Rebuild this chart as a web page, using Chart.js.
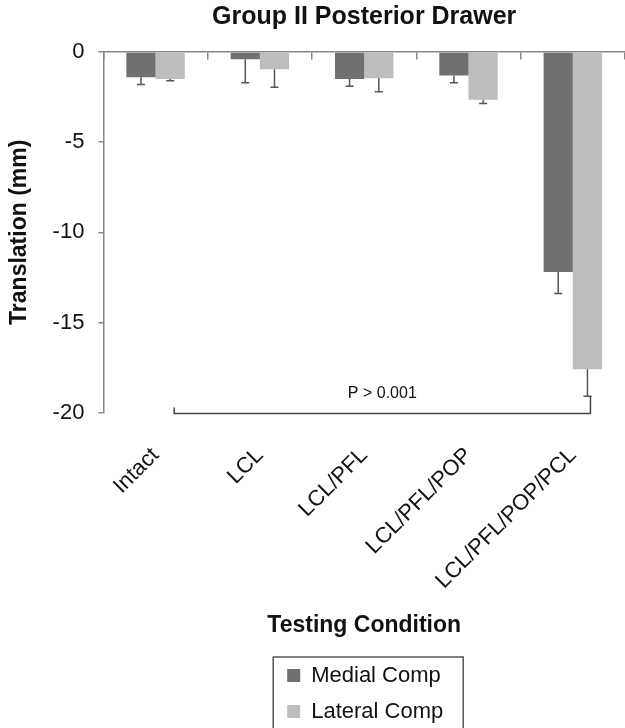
<html>
<head>
    <meta charset="utf-8" />
    <title>Group II Posterior Drawer</title>
    <script src="https://cdn.jsdelivr.net/npm/chart.js@4.4.1/dist/chart.umd.min.js"></script>
    <style>
        body { margin: 0; background: #fff; overflow: hidden; }
        #wrap { width: 625px; height: 728px; }
    </style>
</head>
<body>
    <div id="wrap"><canvas id="grafico"></canvas></div>
    <script>
        // categories and values (mm)
        const categorias = ['Intact', 'LCL', 'LCL/PFL', 'LCL/PFL/POP', 'LCL/PFL/POP/PCL'];
        const medial = [-1.4, -0.4, -1.5, -1.3, -12.2];
        const medialErro = [0.4, 1.3, 0.4, 0.4, 1.2];
        const lateral = [-1.5, -0.95, -1.45, -2.65, -17.6];
        const lateralErro = [0.1, 1.0, 0.75, 0.2, 1.5];
        const yTicks = [0, -5, -10, -15, -20];
        const textoP = 'P > 0.001';

        const fonte = "'Liberation Sans', Arial, sans-serif";
        Chart.defaults.font.family = fonte;
        Chart.defaults.color = '#111';

        // error bars, one sided (away from zero)
        const barrasErro = {
            id: 'barrasErro',
            afterDatasetsDraw(chart) {
                const ctx = chart.ctx;
                const y = chart.scales.y;
                ctx.save();
                ctx.strokeStyle = '#555';
                ctx.lineWidth = 1.5;
                chart.data.datasets.forEach((ds, i) => {
                    const meta = chart.getDatasetMeta(i);
                    meta.data.forEach((bar, j) => {
                        const y0 = bar.y;
                        const y1 = y.getPixelForValue(ds.data[j] - ds.erro[j]);
                        ctx.beginPath();
                        ctx.moveTo(bar.x, y0);
                        ctx.lineTo(bar.x, y1);
                        ctx.moveTo(bar.x - 4, y1);
                        ctx.lineTo(bar.x + 4, y1);
                        ctx.stroke();
                    });
                });
                ctx.restore();
            }
        };

        // bracket with the P value
        const colchete = {
            id: 'colchete',
            afterDatasetsDraw(chart) {
                const ctx = chart.ctx;
                const y = chart.scales.y;
                const meta = chart.getDatasetMeta(1);
                const ds = chart.data.datasets[1];
                const n = meta.data.length - 1;
                const xa = meta.data[0].x + 4;
                const xb = meta.data[n].x + 3;
                const yl = y.getPixelForValue(-20) + 1;
                const ytopo = y.getPixelForValue(ds.data[n] - ds.erro[n]);
                ctx.save();
                ctx.strokeStyle = '#444';
                ctx.lineWidth = 1.5;
                ctx.beginPath();
                ctx.moveTo(xa, yl - 6);
                ctx.lineTo(xa, yl);
                ctx.lineTo(xb, yl);
                ctx.lineTo(xb, ytopo);
                ctx.stroke();
                ctx.fillStyle = '#111';
                ctx.font = '16px ' + fonte;
                ctx.textAlign = 'center';
                ctx.textBaseline = 'middle';
                ctx.fillText(textoP, (xa + xb) / 2, yl - 20);
                ctx.restore();
            }
        };

        // boxed legend, two rows
        const legenda = {
            id: 'legenda',
            afterDraw(chart) {
                const ctx = chart.ctx;
                const area = chart.chartArea;
                const topo = chart.scales.x.bottom + 14;
                const cx = (area.left + area.right) / 2 + 4;
                const largura = 190;
                const esq = cx - largura / 2;
                ctx.save();
                ctx.strokeStyle = '#555';
                ctx.lineWidth = 1.5;
                ctx.strokeRect(esq, topo, largura, 100);
                ctx.font = '22px ' + fonte;
                ctx.textBaseline = 'middle';
                ctx.textAlign = 'left';
                chart.data.datasets.forEach((ds, i) => {
                    const yy = topo + 18 + i * 36;
                    ctx.fillStyle = ds.backgroundColor;
                    ctx.fillRect(esq + 14, yy - 6, 13, 13);
                    ctx.fillStyle = '#111';
                    ctx.fillText(ds.label, esq + 38, yy + 1);
                });
                ctx.restore();
            }
        };

        const grafico = new Chart(document.getElementById('grafico'), {
            type: 'bar',
            data: {
                labels: categorias,
                datasets: [
                    { label: 'Medial Comp', data: medial, erro: medialErro, backgroundColor: '#707070',
                      categoryPercentage: 0.56, barPercentage: 1.0 },
                    { label: 'Lateral Comp', data: lateral, erro: lateralErro, backgroundColor: '#bdbdbd',
                      categoryPercentage: 0.56, barPercentage: 1.0 }
                ]
            },
            options: {
                responsive: true,
                maintainAspectRatio: false,
                animation: false,
                layout: { padding: { left: 6, right: 0, top: 0, bottom: 85 } },
                plugins: {
                    legend: { display: false },
                    tooltip: { enabled: false },
                    title: {
                        display: true,
                        text: 'Group II Posterior Drawer',
                        fullSize: false,
                        font: { size: 25, weight: 'bold' },
                        padding: { top: 2, bottom: 20 }
                    }
                },
                scales: {
                    x: {
                        grid: { display: false },
                        border: { display: false },
                        ticks: { font: { size: 22 }, minRotation: 45, maxRotation: 45, padding: 22, color: '#111' },
                        title: { display: true, text: 'Testing Condition', font: { size: 23, weight: 'bold' },
                                 padding: { top: -5, bottom: 4 }, color: '#111' }
                    },
                    x2: {
                        type: 'category',
                        labels: categorias,
                        position: { y: 0 },
                        offset: true,
                        ticks: { display: false },
                        grid: { offset: true, drawOnChartArea: false, drawTicks: true, tickLength: 7, color: '#888', lineWidth: 1.5 },
                        border: { display: true, color: '#888', width: 1.5 }
                    },
                    y: {
                        min: -20,
                        max: 0,
                        afterBuildTicks(scale) { scale.ticks = yTicks.map(v => ({ value: v })); },
                        grid: { drawOnChartArea: false, tickLength: 5, color: '#888', lineWidth: 1.5 },
                        border: { color: '#888', width: 1.5 },
                        ticks: { font: { size: 22 }, padding: 14, color: '#111' },
                        title: { display: true, text: 'Translation (mm)', font: { size: 23, weight: 'bold' },
                                 padding: { top: 0, bottom: 5 }, color: '#111' }
                    }
                }
            },
            plugins: [barrasErro, colchete, legenda]
        });
    </script>
</body>
</html>
